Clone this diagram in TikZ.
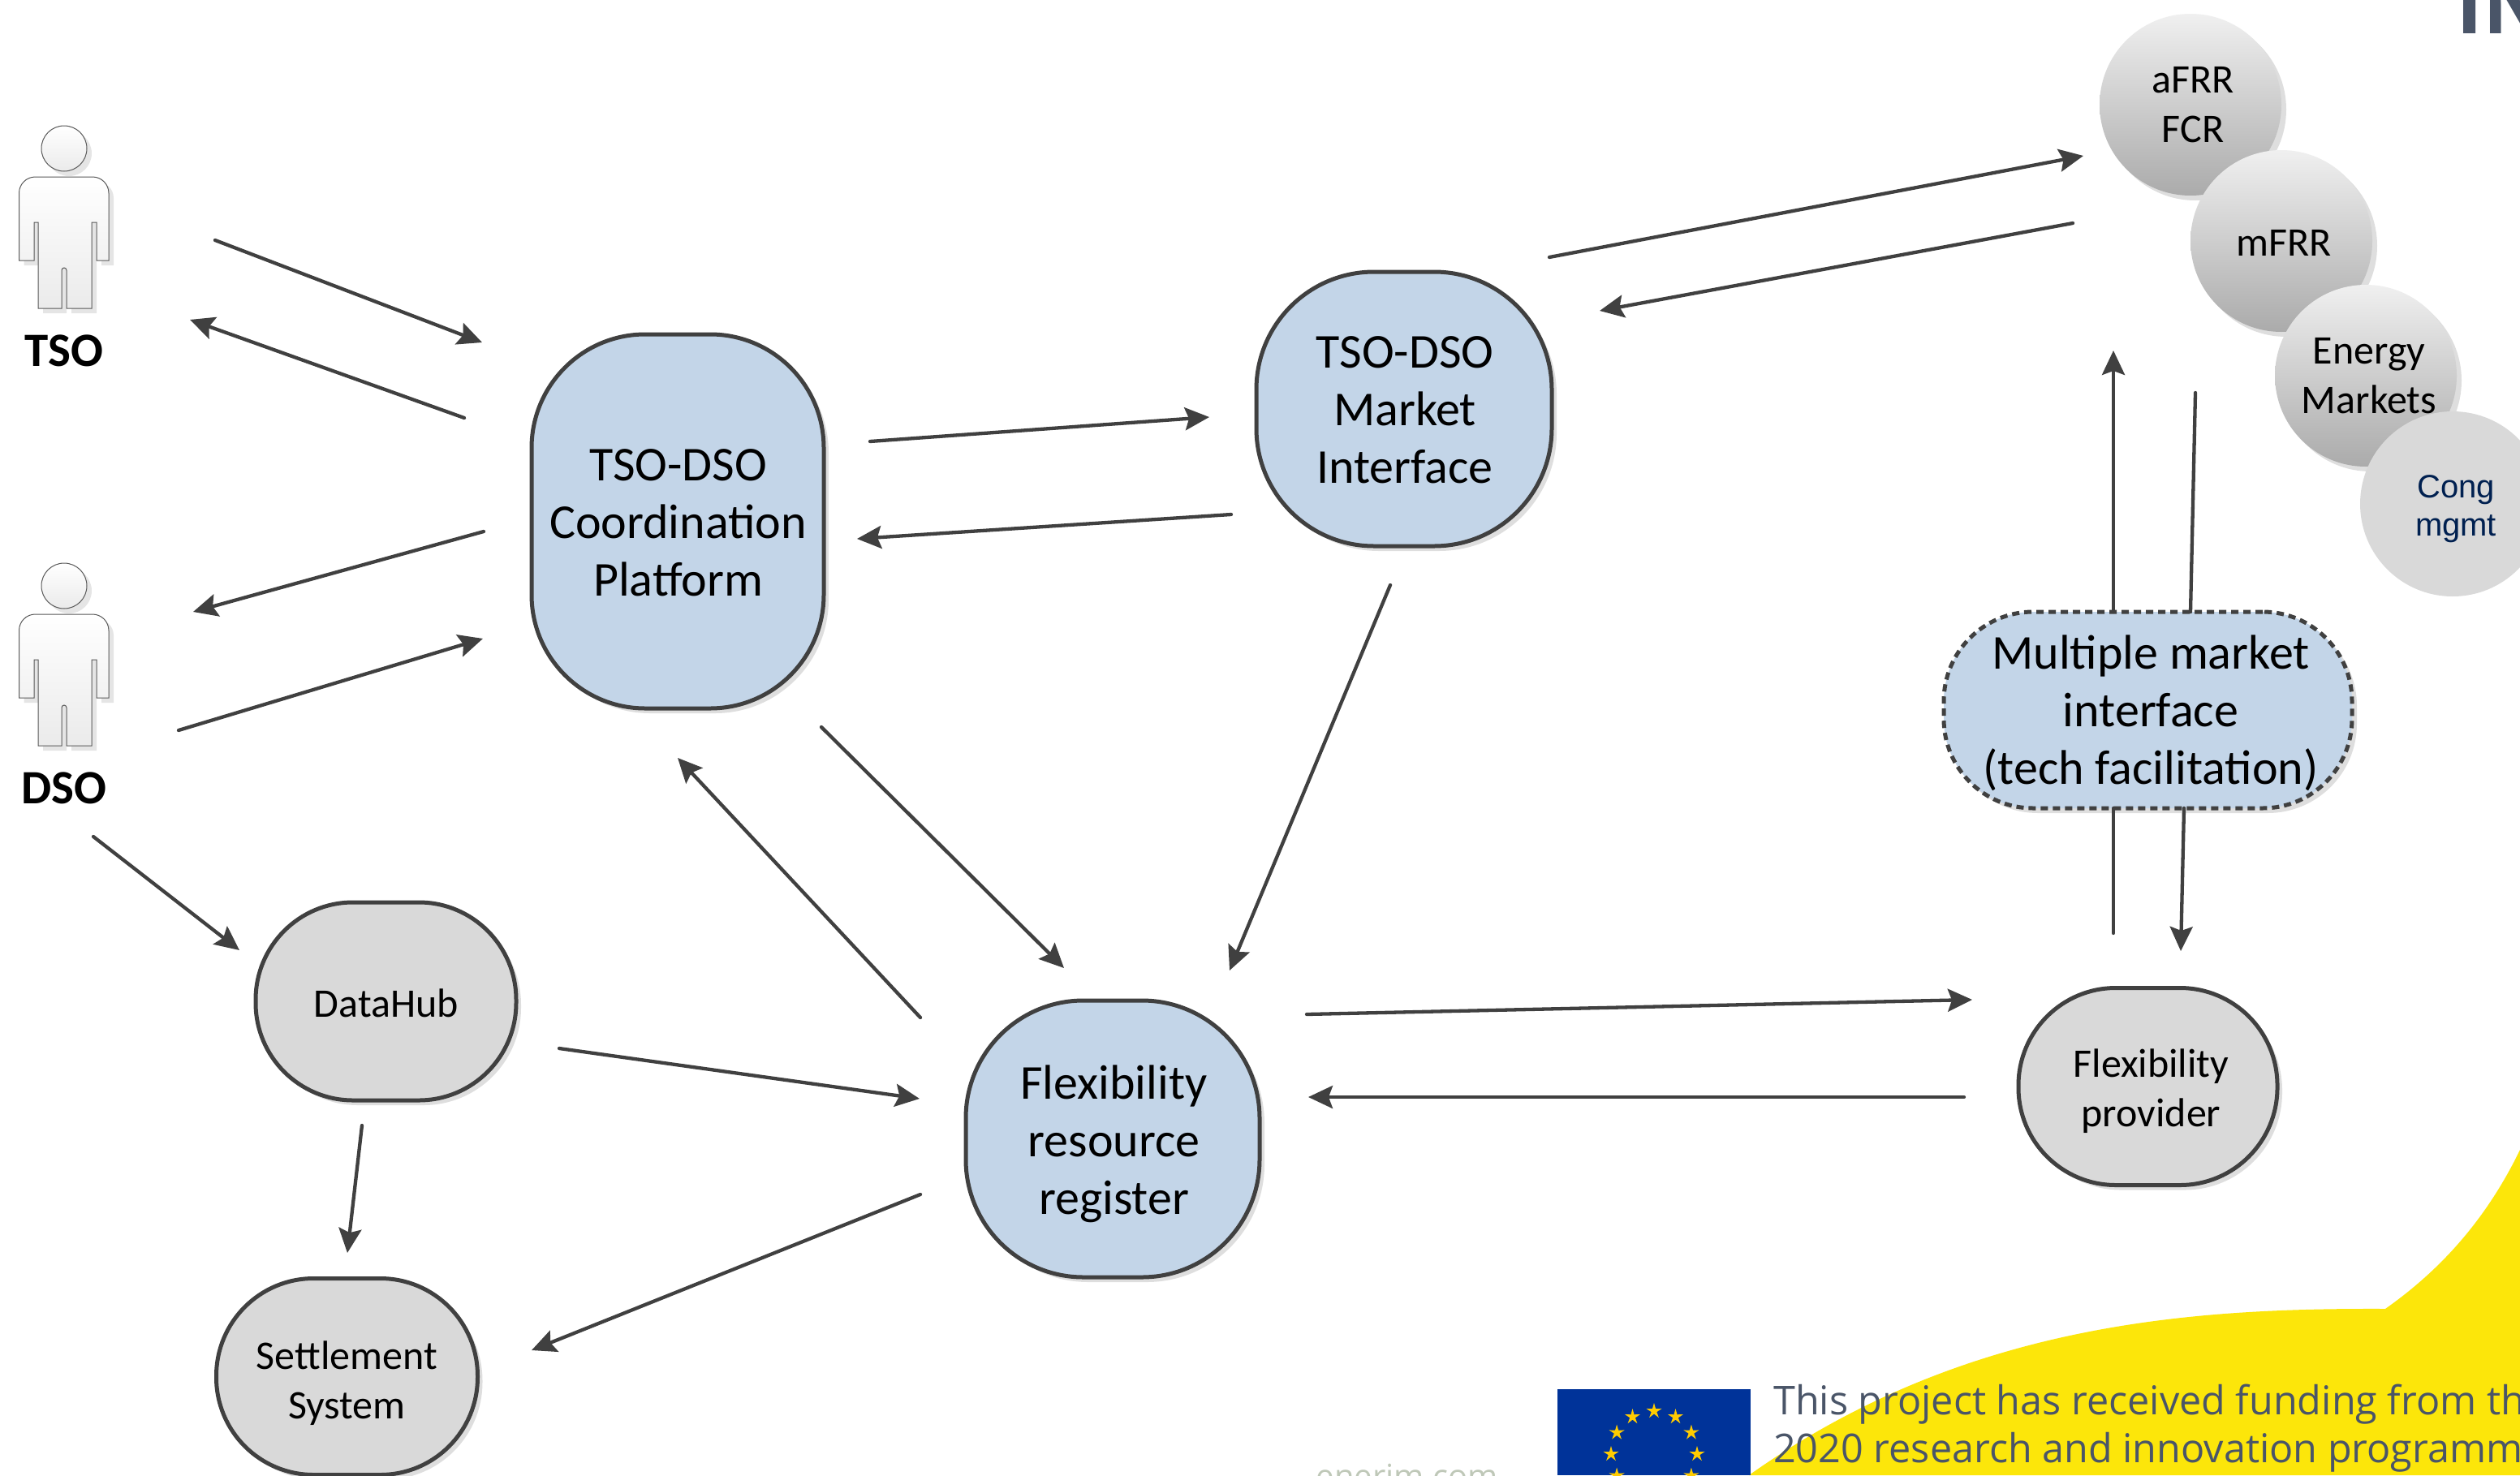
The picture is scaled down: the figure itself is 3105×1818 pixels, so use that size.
\documentclass[tikz,border=0pt]{standalone}
\usepackage{fontspec}
\usepackage{graphicx}
\setmainfont{Carlito}
\newfontfamily\opensans{Open Sans}
\newfontfamily\libsans{Liberation Sans}
\usetikzlibrary{arrows.meta,shadows,calc}
\definecolor{edgegray}{HTML}{404040}
\definecolor{boxblue}{HTML}{C3D5E8}
\definecolor{boxgray}{HTML}{D9D9D9}
\definecolor{euyellow}{HTML}{FCE60A}
\definecolor{eublue}{HTML}{003399}
\definecolor{eustar}{HTML}{FFCC00}
\definecolor{slate}{HTML}{4A5568}
\definecolor{congtext}{HTML}{002050}
\definecolor{webgray}{HTML}{BFC8B8}
\tikzset{
  softshadow/.style={drop shadow={shadow xshift=6pt,shadow yshift=-6pt,fill=black,opacity=.13}},
  arr/.style={draw=edgegray,line width=4.3pt,line cap=round,-{Stealth[length=30pt,width=28pt,inset=5pt]}},
  plainline/.style={draw=edgegray,line width=4.3pt,line cap=round},
  blockbase/.style={rectangle,draw=edgegray,line width=5pt,inner sep=0pt,align=center,text=black,softshadow},
  bigbox/.style={blockbase,fill=boxblue,font=\fontsize{60}{71}\selectfont},
  smallbox/.style={blockbase,fill=boxgray,font=\fontsize{50}{61}\selectfont},
  sphere/.style={circle,inner sep=0pt,minimum size=224pt,top color=white!94!black,bottom color=black!33,align=center,font=\fontsize{50}{61}\selectfont,softshadow},
  actorlabel/.style={anchor=base,inner sep=0pt,font=\fontsize{59}{60}\selectfont\bfseries},
  personbody/.style={draw=black!65,line width=1pt,top color=white,bottom color=black!8,drop shadow={shadow xshift=6pt,shadow yshift=-6pt,fill=black,opacity=.1}},
}
\newcommand{\txt}[3]{\hspace*{#1}\raisebox{#2}[\height][\depth]{\begin{tabular}{@{}c@{}}#3\end{tabular}}}
\newcommand{\personshape}[1]{%
  \begin{scope}[yshift=#1]
    \path[personbody] (79,183) circle[radius=28];
    \path[personbody] (43.5,218) -- (114,218) arc[start angle=-90,end angle=0,radius=20] -- (134,321) -- (119,321) -- (119,274) -- (113,274) -- (113,380) -- (82,380) -- (82,333) arc[start angle=0,end angle=-180,radius=3] -- (76,380) -- (47,380) -- (47,274) -- (42,274) -- (42,321) -- (23.5,321) -- (23.5,238) arc[start angle=180,end angle=270,radius=20] -- cycle;
  \end{scope}}
\newcommand{\eustarat}[1]{%
  \fill[eustar,shift={(2038,1792)},shift={(#1:53)}] (-90:10) -- (-126:3.5) -- (-162:10) -- (-198:3.5) -- (-234:10) -- (-270:3.5) -- (-306:10) -- (-342:3.5) -- (-378:10) -- (-414:3.5) -- cycle;}
\begin{document}
\begin{tikzpicture}[x=1pt,y=-1pt]
\useasboundingbox (0,0) rectangle (3105,1818);
\clip (0,0) rectangle (3105,1818);
\fill[white] (0,0) rectangle (3105,1818);
% footer background
\fill[euyellow] (3105,1417) .. controls (3060,1510) and (3000,1570) .. (2939,1613) .. controls (2700,1612) and (2420,1630) .. (2155,1818) -- (3105,1818) -- cycle;
\fill[eublue] (1919,1712) rectangle (2157,1818);
\foreach \a in {0,30,...,330} {\eustarat{\a}}
\node[anchor=base west,inner sep=0pt,text=slate,font=\opensans\fontsize{49}{59}\selectfont] (fundA) at (2185,1743) {\scalebox{.99}[1]{This project has received funding from th}};
\node[anchor=base west,inner sep=0pt,text=slate,font=\opensans\fontsize{49}{59}\selectfont] (fundB) at (2185,1802) {\scalebox{.99}[1]{2020 research and innovation programm}};
\node[anchor=base,inner sep=0pt,text=webgray,font=\opensans\fontsize{40}{48}\selectfont] (web) at (1734,1833) {enerim.com};
\node[anchor=base west,inner sep=0pt,text=slate,font=\opensans\bfseries\fontsize{100}{100}\selectfont] (logo) at (3026,41) {IN};
% actors
\personshape{0pt}
\personshape{-539pt}
\node[actorlabel] (tso) at (79,451) {TSO};
\node[actorlabel] (dso) at (79,990) {DSO};
% market spheres
\node[sphere] (afrr) at (2699,129) {\txt{6pt}{-4pt}{aFRR\\FCR}};
\node[sphere] (mfrr) at (2811,297) {\txt{7pt}{-6pt}{mFRR}};
\node[sphere] (energy) at (2915,463) {\txt{8pt}{-4pt}{Energy\\Markets}};
\node[circle,inner sep=0pt,minimum size=228pt,fill=boxgray,align=center,text=congtext,font=\libsans\fontsize{40}{47}\selectfont] (cong) at (3022,621) {\txt{8pt}{-7pt}{Cong\\mgmt}};
% main blocks
\node[bigbox,minimum width=360pt,minimum height=461pt,rounded corners=140pt] (coord) at (835,642.5) {\txt{1pt}{-7pt}{TSO-DSO\\Coordination\\Platform}};
\node[bigbox,minimum width=364pt,minimum height=338pt,rounded corners=145pt] (market) at (1730,504) {\txt{2pt}{-6pt}{TSO-DSO\\Market\\Interface}};
\node[bigbox,minimum width=362pt,minimum height=341pt,rounded corners=145pt] (register) at (1371,1403.5) {\txt{3pt}{-8pt}{Flexibility\\resource\\register}};
\node[bigbox,dash pattern=on 9pt off 6pt,minimum width=503pt,minimum height=242pt,rounded corners=110pt] (multi) at (2646.5,875) {\txt{7pt}{-6pt}{Multiple market\\interface\\(tech facilitation)}};
\node[smallbox,minimum width=321pt,minimum height=244pt,rounded corners=120pt] (datahub) at (475.5,1234) {\txt{1pt}{-7pt}{DataHub}};
\node[smallbox,minimum width=322pt,minimum height=242pt,rounded corners=120pt] (settle) at (427.5,1696.5) {\txt{0pt}{-9pt}{Settlement\\System}};
\node[smallbox,minimum width=319pt,minimum height=243pt,rounded corners=120pt] (provider) at (2646.5,1339) {\txt{8pt}{-7pt}{Flexibility\\provider}};
% connector ends
\coordinate (tsoOut) at (265,296);
\coordinate (coordInA) at (594,422);
\coordinate (coordOutA) at (572,515);
\coordinate (tsoIn) at (234,394);
\coordinate (coordOutB) at (596,655);
\coordinate (dsoIn) at (238,754);
\coordinate (dsoOutA) at (220,900);
\coordinate (coordInB) at (595,787);
\coordinate (coordOutC) at (1072,544);
\coordinate (marketInA) at (1490,514);
\coordinate (marketOutA) at (1517,634);
\coordinate (coordInC) at (1056,664);
\coordinate (marketOutB) at (1713,721);
\coordinate (registerInA) at (1515,1196);
\coordinate (coordOutD) at (1012,896);
\coordinate (registerInB) at (1311,1193);
\coordinate (registerOutA) at (1134,1254);
\coordinate (coordInD) at (835,934);
\coordinate (marketOutC) at (1909,317);
\coordinate (afrrIn) at (2567,192);
\coordinate (afrrOut) at (2554,275);
\coordinate (marketInB) at (1971,383);
\coordinate (multiOutA) at (2604,754);
\coordinate (upperTip) at (2604,432);
\coordinate (upperStart) at (2705,484);
\coordinate (multiInA) at (2699,754);
\coordinate (providerOut) at (2604,1150);
\coordinate (multiInB) at (2604,996);
\coordinate (multiOutB) at (2691,996);
\coordinate (providerIn) at (2687,1172);
\coordinate (registerOutB) at (1610,1250);
\coordinate (providerInB) at (2430,1232);
\coordinate (providerOutB) at (2420,1352);
\coordinate (registerInC) at (1612,1352);
\coordinate (dsoOutB) at (115,1031);
\coordinate (datahubIn) at (295,1171);
\coordinate (datahubOutA) at (689,1292);
\coordinate (registerInD) at (1133,1354);
\coordinate (datahubOutB) at (446,1387);
\coordinate (settleInA) at (428,1544);
\coordinate (registerOutC) at (1134,1472);
\coordinate (settleInB) at (655,1664);
% connectors
\draw[arr] (tsoOut) -- (coordInA);
\draw[arr] (coordOutA) -- (tsoIn);
\draw[arr] (coordOutB) -- (dsoIn);
\draw[arr] (dsoOutA) -- (coordInB);
\draw[arr] (coordOutC) -- (marketInA);
\draw[arr] (marketOutA) -- (coordInC);
\draw[arr] (marketOutB) -- (registerInA);
\draw[arr] (coordOutD) -- (registerInB);
\draw[arr] (registerOutA) -- (coordInD);
\draw[arr] (marketOutC) -- (afrrIn);
\draw[arr] (afrrOut) -- (marketInB);
\draw[arr] (multiOutA) -- (upperTip);
\draw[plainline] (upperStart) -- (multiInA);
\draw[plainline] (providerOut) -- (multiInB);
\draw[arr] (multiOutB) -- (providerIn);
\draw[arr] (registerOutB) -- (providerInB);
\draw[arr] (providerOutB) -- (registerInC);
\draw[arr] (dsoOutB) -- (datahubIn);
\draw[arr] (datahubOutA) -- (registerInD);
\draw[arr] (datahubOutB) -- (settleInA);
\draw[arr] (registerOutC) -- (settleInB);
\end{tikzpicture}
\end{document}
